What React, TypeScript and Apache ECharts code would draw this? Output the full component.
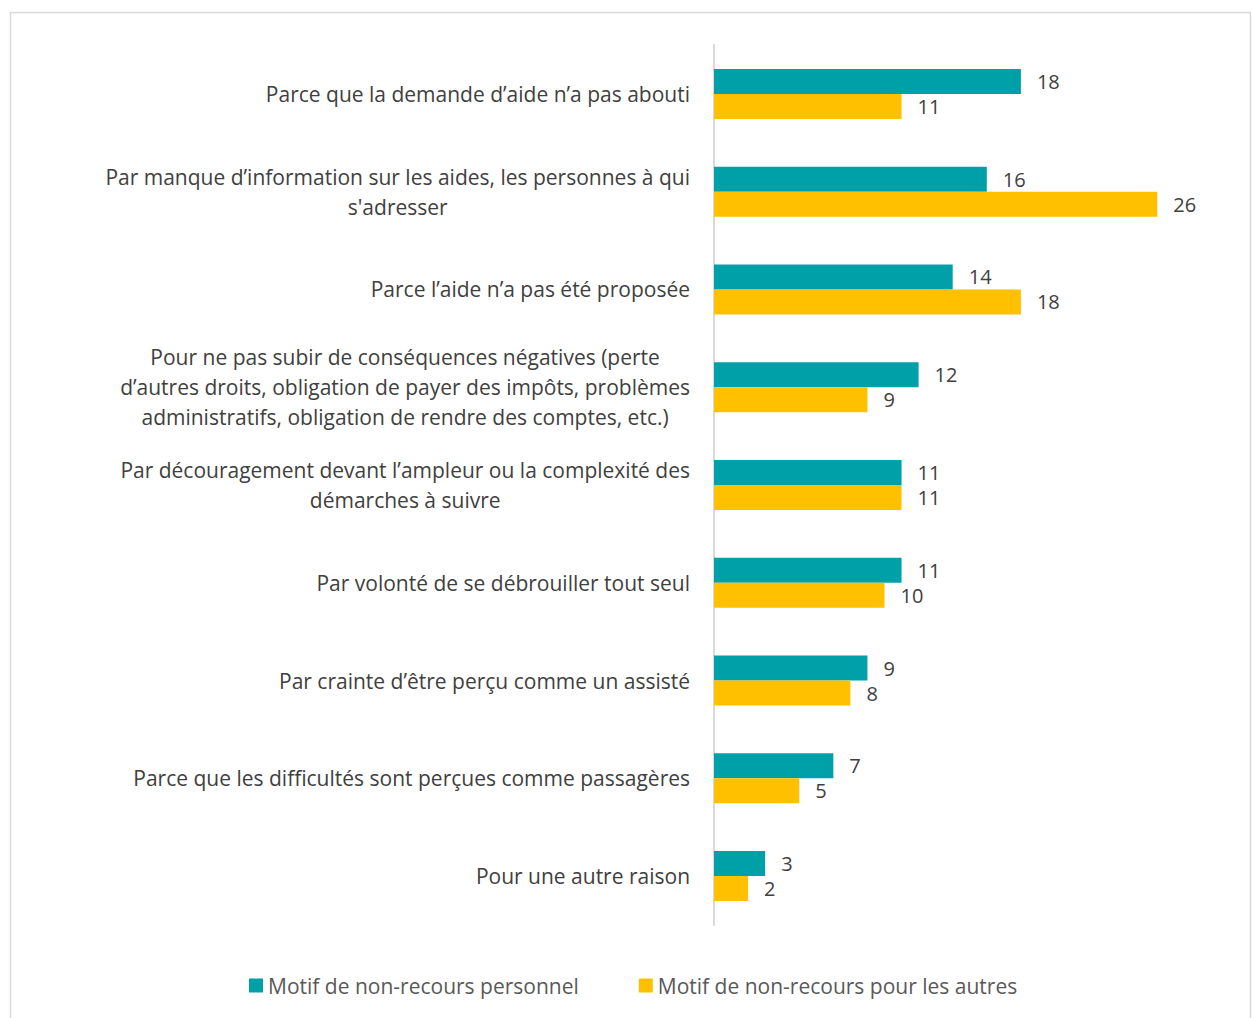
import React, { useEffect, useRef } from "react";
import * as echarts from "echarts";

const categories = [
  "Parce que la demande d\u2019aide n\u2019a pas abouti",
  "Par manque d\u2019information sur les aides, les personnes \u00e0 qui\ns'adresser",
  "Parce l\u2019aide n\u2019a pas \u00e9t\u00e9 propos\u00e9e",
  "Pour ne pas subir de cons\u00e9quences n\u00e9gatives (perte\nd\u2019autres droits, obligation de payer des imp\u00f4ts, probl\u00e8mes\nadministratifs, obligation de rendre des comptes, etc.)",
  "Par d\u00e9couragement devant l\u2019ampleur ou la complexit\u00e9 des\nd\u00e9marches \u00e0 suivre",
  "Par volont\u00e9 de se d\u00e9brouiller tout seul",
  "Par crainte d\u2019\u00eatre per\u00e7u comme un assist\u00e9",
  "Parce que les difficult\u00e9s sont per\u00e7ues comme passag\u00e8res",
  "Pour une autre raison",
];
const seriesNames = ["Motif de non-recours personnel", "Motif de non-recours pour les autres"];
const personnel = [18, 16, 14, 12, 11, 11, 9, 7, 3];
const autres = [11, 26, 18, 9, 11, 10, 8, 5, 2];

const FONT = "'Open Sans', sans-serif";

export default function App() {
  const ref = useRef<HTMLDivElement>(null);
  useEffect(() => {
    const chart = echarts.init(ref.current!, undefined, { renderer: "svg" });
    const labelCfg = {
      show: true,
      position: "right",
      distance: 16,
      color: "#404040",
      fontSize: 20,
      lineHeight: 20,
      fontFamily: FONT,
    };
    chart.setOption({
      animation: false,
      backgroundColor: "#ffffff",
      textStyle: { fontFamily: FONT },
      graphic: [
        {
          type: "rect",
          shape: { x: 10.5, y: 12.5, width: 1240, height: 1020 },
          style: { fill: "none", stroke: "#d9d9d9", lineWidth: 1.5 },
          silent: true,
        },
      ],
      grid: { left: 714, top: 45, width: 511.5, height: 880, containLabel: false },
      legend: {
        top: 975,
        left: 249,
        padding: 0,
        itemWidth: 14,
        itemHeight: 14,
        itemGap: 60,
        icon: "rect",
        textStyle: { fontSize: 21, color: "#595959", fontFamily: FONT },
        data: seriesNames,
      },
      xAxis: {
        type: "value",
        min: 0,
        max: 30,
        show: false,
      },
      yAxis: {
        type: "category",
        inverse: true,
        data: categories,
        axisLine: { show: true, lineStyle: { color: "#d9d9d9", width: 2 } },
        axisTick: { show: false },
        axisLabel: {
          margin: 24,
          color: "#404040",
          fontFamily: FONT,
          align: "right",
          formatter: (v: string) =>
            v
              .split("\n")
              .map((l) => "{c|" + l + "}")
              .join("\n"),
          rich: {
            c: {
              align: "center",
              fontSize: 21,
              lineHeight: 30,
              color: "#404040",
              fontFamily: FONT,
            },
          },
        },
      },
      series: [
        {
          name: seriesNames[0],
          type: "bar",
          data: personnel,
          barWidth: 25,
          barGap: "0%",
          itemStyle: { color: "#00A0A8" },
          label: labelCfg,
        },
        {
          name: seriesNames[1],
          type: "bar",
          data: autres,
          barWidth: 25,
          itemStyle: { color: "#FFC000" },
          label: labelCfg,
        },
      ],
    });
    return () => chart.dispose();
  }, []);
  return (
    <div
      ref={ref}
      style={{ position: "absolute", left: 0, top: 0, width: 1252, height: 1018 }}
    />
  );
}
